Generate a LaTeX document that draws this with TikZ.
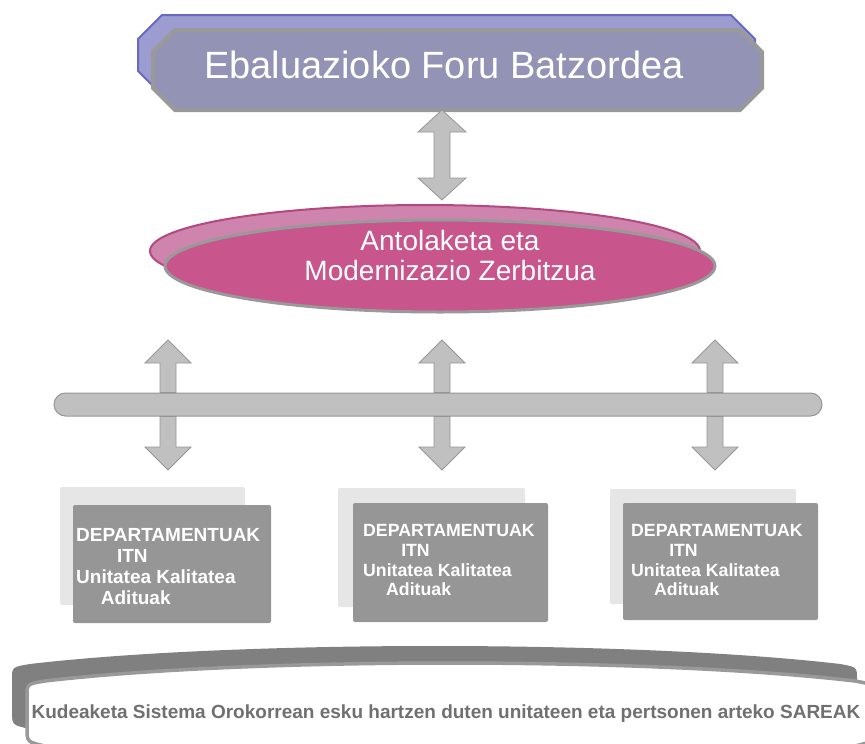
\documentclass[tikz,border=0pt]{standalone}
\usepackage{fontspec}
\setmainfont{Liberation Sans}
\usetikzlibrary{calc,shapes.geometric}

\definecolor{octbackfill}{RGB}{156,156,208}
\definecolor{octbackline}{RGB}{104,104,200}
\definecolor{octfrontfill}{RGB}{147,147,182}
\definecolor{greyline}{RGB}{153,153,153}
\definecolor{ellbackfill}{RGB}{206,132,172}
\definecolor{ellbackline}{RGB}{178,74,128}
\definecolor{ellfrontfill}{RGB}{200,85,140}
\definecolor{arrfill}{RGB}{192,192,192}
\definecolor{arrline}{RGB}{150,150,150}
\definecolor{deptbackfill}{RGB}{230,230,230}
\definecolor{deptfrontfill}{RGB}{150,150,150}
\definecolor{bandbackfill}{RGB}{128,128,128}
\definecolor{bandtextcol}{RGB}{112,112,112}

\tikzset{
  octbox/.style={rectangle, outer sep=0pt, inner sep=0pt},
  backoct/.style={fill=octbackfill, draw=octbackline, line width=2pt},
  frontoct/.style={fill=octfrontfill, draw=greyline, line width=4pt},
  octtext/.style={text=white, font=\fontsize{38}{40}\selectfont, inner sep=0pt},
  ellback/.style={ellipse, minimum width=550pt, minimum height=92pt,
    fill=ellbackfill, draw=ellbackline, line width=2pt},
  ellfront/.style={ellipse, minimum width=550pt, minimum height=92pt,
    fill=ellfrontfill, draw=greyline, line width=3pt},
  elltext/.style={text=white, align=center, font=\fontsize{28}{30}\selectfont, inner sep=0pt},
  blockarr/.style={fill=arrfill, draw=arrline, line width=0.8pt},
  bus/.style={rectangle, rounded corners=11.5pt, minimum width=768pt,
    minimum height=23pt, fill=arrfill, draw=arrline, line width=1pt},
  deptback/.style={rectangle, rounded corners=2pt, fill=deptbackfill},
  deptfront/.style={rectangle, rounded corners=2pt, fill=deptfrontfill},
  depttext/.style={text=white, align=left, inner sep=0pt, anchor=north west},
  bandback/.style={fill=bandbackfill},
  bandfront/.style={fill=white, draw=greyline, line width=3.5pt},
  bandtext/.style={text=bandtextcol, font=\fontsize{19}{21}\selectfont\bfseries, inner sep=0pt},
}

% chamfered outline round node #1, chamfer #2, style #3
\newcommand{\octagon}[3]{%
  \path[#3] ($(#1.north west)+(#2,0)$) -- ($(#1.north east)+(-#2,0)$)
    -- ($(#1.north east)+(0,#2)$) -- ($(#1.south east)+(0,-#2)$)
    -- ($(#1.south east)+(-#2,0)$) -- ($(#1.south west)+(#2,0)$)
    -- ($(#1.south west)+(0,-#2)$) -- ($(#1.north west)+(0,#2)$) -- cycle;}
% double headed block arrow, vertical, tips at #1 and #2
\newcommand{\dblarr}[2]{%
  \path[blockarr] let \p1=(#1), \p2=(#2), \n1={sign(\y1-\y2)} in
    (\p1) -- ({\x1+24pt},{\y1-\n1*22pt}) -- ({\x1+8pt},{\y1-\n1*22pt})
    -- ({\x1+8pt},{\y2+\n1*22pt}) -- ({\x1+24pt},{\y2+\n1*22pt})
    -- (\x1,\y2) -- ({\x1-24pt},{\y2+\n1*22pt}) -- ({\x1-8pt},{\y2+\n1*22pt})
    -- ({\x1-8pt},{\y1-\n1*22pt}) -- ({\x1-24pt},{\y1-\n1*22pt}) -- cycle;}
% single block arrow, shaft at #1, tip at #2
\newcommand{\sglarr}[2]{%
  \path[blockarr] let \p1=(#1), \p2=(#2), \n1={sign(\y1-\y2)} in
    ({\x2-8pt},\y1) -- ({\x2-8pt},{\y2+\n1*23pt}) -- ({\x2-23pt},{\y2+\n1*23pt})
    -- (\p2) -- ({\x2+23pt},{\y2+\n1*23pt}) -- ({\x2+8pt},{\y2+\n1*23pt})
    -- ({\x2+8pt},\y1) -- cycle;}

\begin{document}
\begin{tikzpicture}[x=1pt,y=-1pt]
\useasboundingbox (0,0) rectangle (865,744);

% Batzordea
\node[octbox,minimum width=617pt,minimum height=80pt] (efbback) at (446.5,55) {};
\octagon{efbback}{24}{backoct}
\node[octbox,minimum width=609pt,minimum height=80pt] (efb) at (457.5,70) {};
\octagon{efb}{22}{frontoct}
\node[octtext,anchor=base] (efblbl) at (444,78) {Ebaluazioko Foru Batzordea};

% Zerbitzua
\node[ellback] (amzback) at (425,251) {};
\node[ellfront] (amz) at (440,266) {};
\node[elltext] (amzlbl) at (450,255) {Antolaketa eta\\Modernizazio Zerbitzua};

\coordinate (amztop) at (442,200);
\dblarr{efb.south -| amztop}{amztop}

% bus
\node[bus] (bus) at (438,404.5) {};
\foreach \i/\xx in {1/168,2/442,3/715} {
  \coordinate (up\i) at (\xx,340);
  \coordinate (dn\i) at (\xx,470);
  \sglarr{bus.north -| up\i}{up\i}
  \sglarr{bus.south -| dn\i}{dn\i}
}

% Departamentuak
\node[deptback,minimum width=185pt,minimum height=118pt] (dback1) at (152.5,546) {};
\node[deptfront,minimum width=198pt,minimum height=118pt] (dept1) at (172,564) {};
\node[depttext,font=\fontsize{19}{21}\selectfont\bfseries] (dlbl1) at (76,528.4)
  {DEPARTAMENTUAK\\\hspace*{2.15em}ITN\\Unitatea Kalitatea\\\hspace*{1.3em}Adituak};

\node[deptback,minimum width=187pt,minimum height=119pt] (dback2) at (431.5,547.5) {};
\node[deptfront,minimum width=195pt,minimum height=119pt] (dept2) at (450.5,562.5) {};
\node[depttext,font=\fontsize{17.7}{19.7}\selectfont\bfseries] (dlbl2) at (363,524.3)
  {DEPARTAMENTUAK\\\hspace*{2.15em}ITN\\Unitatea Kalitatea\\\hspace*{1.3em}Adituak};

\node[deptback,minimum width=186pt,minimum height=115pt] (dback3) at (703,546.5) {};
\node[deptfront,minimum width=195pt,minimum height=117pt] (dept3) at (720.5,561.5) {};
\node[depttext,font=\fontsize{17.7}{19.7}\selectfont\bfseries] (dlbl3) at (631,524.3)
  {DEPARTAMENTUAK\\\hspace*{2.15em}ITN\\Unitatea Kalitatea\\\hspace*{1.3em}Adituak};

% Sareak
\begin{scope}
\clip (0,0) rectangle (865,744);
\begin{scope}[shift={(-15,-17)}]
\fill[bandback] (27,700) -- (27,696) .. controls (27,684) .. (45,681)
  .. controls (250,657) and (650,657) .. (855,681) .. controls (872,684) .. (872,696)
  -- (872,728) .. controls (872,742) .. (855,746) .. controls (650,772) and (250,772) .. (45,746)
  .. controls (27,742) .. (27,728) -- cycle;
\end{scope}
\draw[bandfront] (27,700) -- (27,696) .. controls (27,684) .. (45,681)
  .. controls (250,657) and (650,657) .. (855,681) .. controls (872,684) .. (872,696)
  -- (872,728) .. controls (872,742) .. (855,746) .. controls (650,772) and (250,772) .. (45,746)
  .. controls (27,742) .. (27,728) -- cycle;
\end{scope}
\node[bandtext,anchor=base] (sareak) at (446,718)
  {Kudeaketa Sistema Orokorrean esku hartzen duten unitateen eta pertsonen arteko SAREAK};
\end{tikzpicture}
\end{document}
